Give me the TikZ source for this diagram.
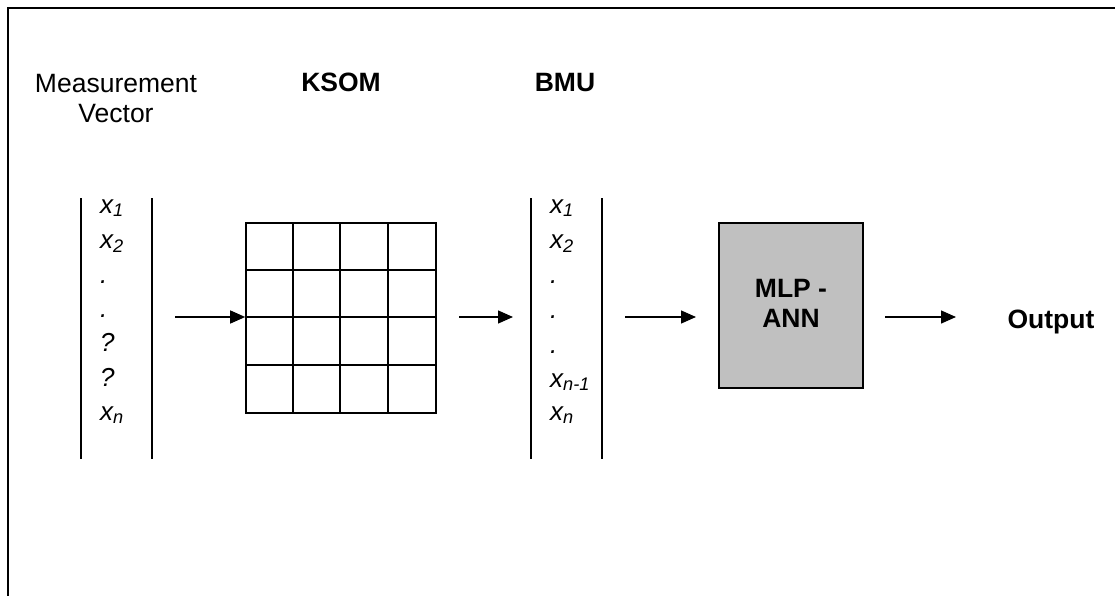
\documentclass[tikz,border=0pt]{standalone}
\usepackage{fontspec}
\setmainfont{Liberation Sans}
\usetikzlibrary{arrows.meta,calc}
\definecolor{boxgray}{HTML}{C0C0C0}
\tikzset{
  txt/.style={font=\fontsize{26.5}{30}\selectfont, inner sep=0pt},
  btxt/.style={font=\fontsize{26.5}{30}\selectfont\bfseries, inner sep=0pt},
  entry/.style={font=\fontsize{26}{30}\selectfont\itshape, inner sep=0pt, anchor=base west},
  bar/.style={line width=1.6pt},
  arr/.style={line width=1.4pt, -{Triangle[length=15pt,width=13pt]}},
  gridline/.style={line width=1.6pt},
}
\begin{document}
\begin{tikzpicture}[x=1pt,y=-1pt]
\useasboundingbox (0,0) rectangle (1115,596);
% outer frame (top and left edges)
\draw[line width=1.8pt] (8,596) -- (8,8) -- (1115,8);

% headings
\node[txt, anchor=base] (hmv1) at (116,93) {Measurement};
\node[txt, anchor=base] (hmv2) at (116,123) {Vector};
\node[btxt, anchor=base] (hksom) at (341,92) {KSOM};
\node[btxt, anchor=base] (hbmu) at (565,92) {BMU};

% input measurement vector
\draw[bar] (81,198) -- (81,459);
\draw[bar] (152,198) -- (152,459);
\node[entry] (a1) at (100,213) {x\textsubscript{1}};
\node[entry] (a2) at (100,248) {x\textsubscript{2}};
\node[entry] (a3) at (100,283) {.};
\node[entry] (a4) at (100,317) {.};
\node[entry] (a5) at (100,351) {?};
\node[entry] (a6) at (100,386) {?};
\node[entry] (a7) at (100,420) {x\textsubscript{n}};
\coordinate (ain) at (175,317);

% KSOM grid
\node[draw, gridline, minimum width=190pt, minimum height=190pt, inner sep=0pt] (ksom) at (341,318) {};
\foreach \i in {1,2,3} {
  \draw[gridline] ($(ksom.north west)+(47.5*\i,0)$) -- ($(ksom.south west)+(47.5*\i,0)$);
  \draw[gridline] ($(ksom.north west)+(0,47.5*\i)$) -- ($(ksom.north east)+(0,47.5*\i)$);
}
\coordinate (kout) at (459,317);

% BMU vector
\draw[bar] (531,198) -- (531,459);
\draw[bar] (602,198) -- (602,459);
\node[entry] (b1) at (550,213) {x\textsubscript{1}};
\node[entry] (b2) at (550,248) {x\textsubscript{2}};
\node[entry] (b3) at (550,283) {.};
\node[entry] (b4) at (550,318) {.};
\node[entry] (b5) at (550,353) {.};
\node[entry] (b6) at (550,387) {x\textsubscript{n-1}};
\node[entry] (b7) at (550,420) {x\textsubscript{n}};
\coordinate (bin) at (513,317);
\coordinate (bout) at (625,317);
\coordinate (min) at (696,317);

% MLP-ANN block
\node[draw, fill=boxgray, line width=1.6pt, minimum width=144pt, minimum height=165pt, inner sep=0pt] (mlp) at (791,305.5) {};
\node[btxt, anchor=base] (mlp1) at (791,297) {MLP -};
\node[btxt, anchor=base] (mlp2) at (791,327) {ANN};
\coordinate (mout) at (885,317);

% output
\node[btxt, anchor=base] (out) at (1051,328) {Output};
\coordinate (oin) at (956,317);

% connectors
\draw[arr] (ain) -- (ain -| ksom.west);
\draw[arr] (kout) -- (bin);
\draw[arr] (bout) -- (min);
\draw[arr] (mout) -- (oin);
\end{tikzpicture}
\end{document}
